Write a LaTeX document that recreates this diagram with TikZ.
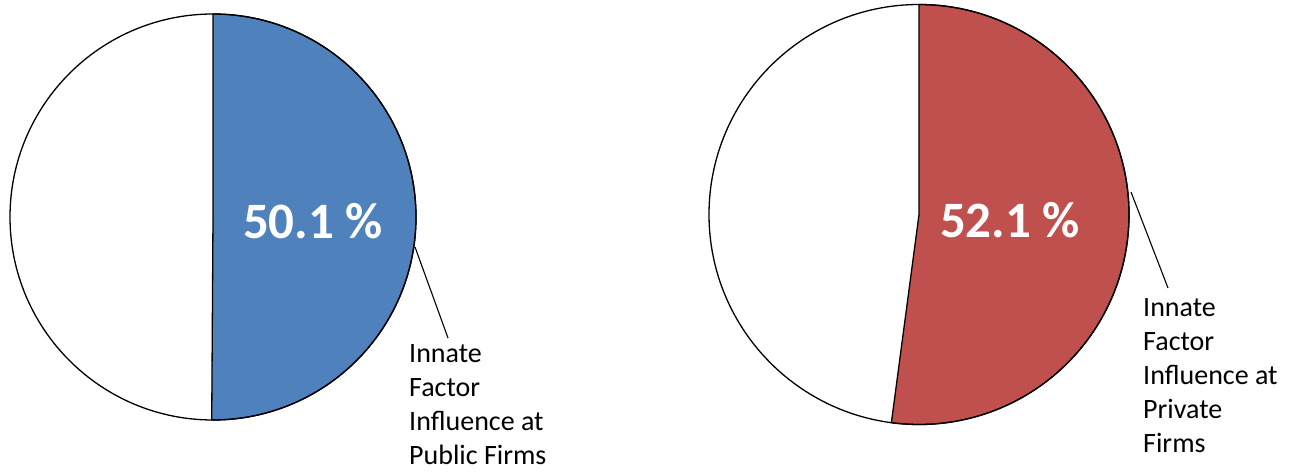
\documentclass[tikz,border=0pt]{standalone}
\usepackage{fontspec}
\setmainfont{Carlito}
\definecolor{pieblue}{HTML}{4F81BD}
\definecolor{piered}{HTML}{C0504D}
\tikzset{
  slice/.style={draw=black, line width=1.3pt, line join=round},
  pct/.style={text=white, font=\fontsize{51}{60}\selectfont\bfseries, inner sep=0pt},
  lbl/.style={font=\fontsize{28}{34}\selectfont, align=left, inner sep=0pt, anchor=north west},
  leader/.style={draw=black, line width=1.1pt}
}
\begin{document}
\begin{tikzpicture}[x=1pt,y=1pt]
\useasboundingbox (0,0) rectangle (1289,471);
% left pie
\coordinate (c1) at (213,254);
\fill[white] (c1) circle[radius=203];
\fill[pieblue] (c1) -- ++(90:203) arc[start angle=90, end angle=-90.36, radius=203] -- cycle;
\draw[slice] (c1) -- ++(90:203) arc[start angle=90, end angle=-90.36, radius=203] -- cycle;
\draw[slice] (c1) circle[radius=203];
\node[pct] (p1) at (313,250) {50.1 \%};
\coordinate (e1) at (415,224);
\node[lbl] (l1) at (409,127) {Innate\\Factor\\Influence at\\Public Firms};
\coordinate (t1) at (448,133);
\draw[leader] (e1) -- (t1);
% right pie
\coordinate (c2) at (919,256.5);
\fill[white] (c2) circle[radius=210];
\fill[piered] (c2) -- ++(90:210) arc[start angle=90, end angle=-97.56, radius=210] -- cycle;
\draw[slice] (c2) -- ++(90:210) arc[start angle=90, end angle=-97.56, radius=210] -- cycle;
\draw[slice] (c2) circle[radius=210];
\node[pct] (p2) at (1010,251) {52.1 \%};
\coordinate (e2) at (1131,279);
\node[lbl] (l2) at (1143,173) {Innate\\Factor\\Influence at\\Private\\Firms};
\coordinate (t2) at (1168,183);
\draw[leader] (e2) -- (t2);
\end{tikzpicture}
\end{document}
